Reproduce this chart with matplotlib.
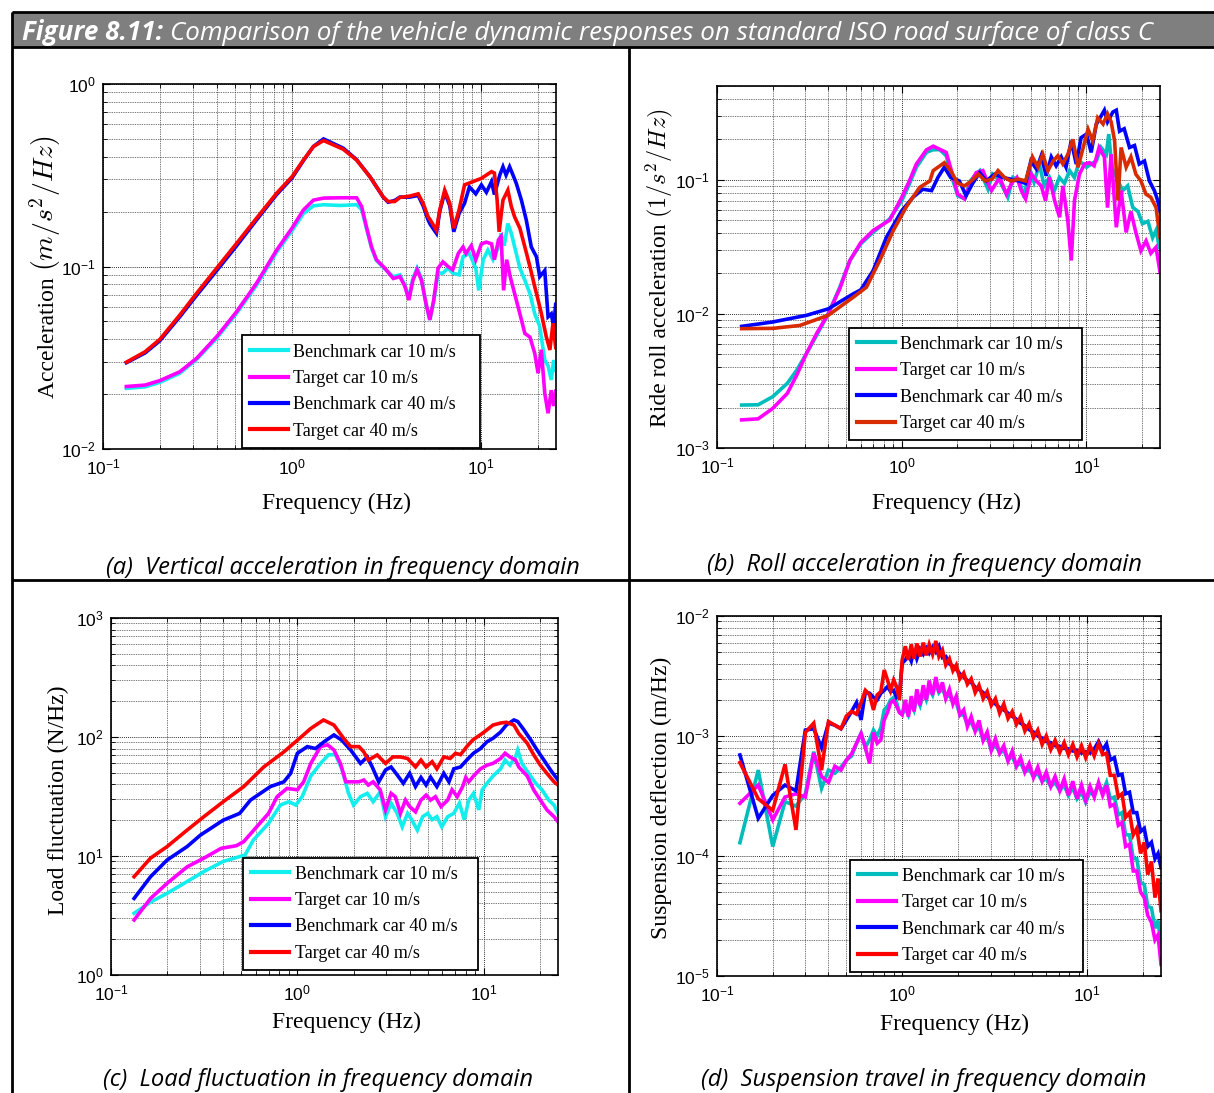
import numpy as np
import matplotlib
matplotlib.use("Agg")
import matplotlib.pyplot as plt
from matplotlib.ticker import LogLocator, NullFormatter
from matplotlib.patches import Rectangle
from matplotlib.lines import Line2D

# ---------------------------------------------------------------- data
LABELS = ["Benchmark car 10 m/s", "Target car 10 m/s",
          "Benchmark car 40 m/s", "Target car 40 m/s"]

# (a) vertical acceleration PSD
fa_bm10 = [0.133, 0.167, 0.2, 0.255, 0.313, 0.4, 0.51, 0.65, 0.83, 1.0, 1.15, 1.3, 1.47, 1.8, 2.2, 2.34, 2.48, 2.64,
           2.8, 3.1, 3.44, 3.73, 3.96, 4.16, 4.37, 4.6, 4.85, 5.12, 5.37, 5.63, 5.94, 6.3, 6.7, 7.1, 7.67, 8.05, 8.7,
           9.4, 9.75, 10.3, 10.9, 11.6, 12.4, 12.8, 13.3, 13.9, 14.5, 15.1, 16.1, 17.1, 18.2, 19.3, 20.5, 21.8, 22.7,
           23.6, 24.3, 24.9]
va_bm10 = [0.0215, 0.0219, 0.0232, 0.026, 0.031, 0.0405, 0.0555, 0.079, 0.12, 0.157, 0.195, 0.215, 0.218, 0.216,
           0.218, 0.205, 0.162, 0.126, 0.108, 0.097, 0.088, 0.09, 0.079, 0.067, 0.086, 0.098, 0.086, 0.063, 0.051,
           0.064, 0.092, 0.092, 0.098, 0.092, 0.09, 0.113, 0.118, 0.098, 0.074, 0.109, 0.123, 0.109, 0.128, 0.152,
           0.13, 0.172, 0.152, 0.128, 0.098, 0.084, 0.071, 0.055, 0.047, 0.0307, 0.0285, 0.0239, 0.0307, 0.027]
fa_tg10 = [0.133, 0.167, 0.2, 0.255, 0.313, 0.4, 0.51, 0.65, 0.83, 1.0, 1.15, 1.3, 1.47, 1.8, 2.2, 2.34, 2.48, 2.64,
           2.8, 3.1, 3.44, 3.73, 3.96, 4.16, 4.37, 4.6, 4.85, 5.12, 5.37, 5.63, 5.94, 6.3, 6.7, 7.1, 7.6, 8.05, 8.35,
           8.9, 9.4, 10.07, 10.7, 11.4, 11.8, 12.4, 12.8, 13.2, 13.7, 14.3, 15.1, 16.1, 17.1, 18.2, 19.3, 20.1, 20.9,
           21.8, 22.7, 23.6, 24.3, 24.9]
va_tg10 = [0.022, 0.0224, 0.0237, 0.0265, 0.0314, 0.0413, 0.0566, 0.081, 0.123, 0.162, 0.204, 0.231, 0.237, 0.238,
           0.238, 0.213, 0.165, 0.128, 0.109, 0.098, 0.086, 0.088, 0.078, 0.0655, 0.084, 0.096, 0.084, 0.063, 0.051,
           0.0655, 0.098, 0.106, 0.1, 0.096, 0.118, 0.128, 0.118, 0.13, 0.109, 0.133, 0.136, 0.133, 0.109, 0.14,
           0.146, 0.074, 0.109, 0.088, 0.071, 0.055, 0.043, 0.041, 0.0334, 0.026, 0.035, 0.0202, 0.0157, 0.021,
           0.0172, 0.0207]
fa_bm40 = [0.133, 0.167, 0.2, 0.255, 0.313, 0.4, 0.51, 0.65, 0.83, 1.0, 1.15, 1.3, 1.47, 1.87, 2.2, 2.59, 3.04, 3.23,
           3.5, 3.73, 4.2, 4.66, 4.95, 5.26, 5.4, 5.82, 6.06, 6.44, 6.85, 7.19, 7.67, 8.2, 8.7, 9.4, 10.07, 10.7,
           11.4, 11.8, 12.6, 13.1, 13.6, 14.2, 14.8, 15.4, 16.4, 17.4, 18.5, 19.7, 20.5, 21.8, 22.7, 23.6, 24.3, 24.9]
va_bm40 = [0.0297, 0.0336, 0.0392, 0.053, 0.0695, 0.095, 0.13, 0.18, 0.248, 0.305, 0.38, 0.455, 0.5, 0.445, 0.385,
           0.31, 0.24, 0.225, 0.23, 0.24, 0.24, 0.245, 0.215, 0.18, 0.17, 0.152, 0.2, 0.255, 0.215, 0.155, 0.195,
           0.222, 0.273, 0.25, 0.28, 0.255, 0.292, 0.248, 0.317, 0.352, 0.317, 0.352, 0.317, 0.286, 0.231, 0.18,
           0.128, 0.113, 0.088, 0.095, 0.053, 0.055, 0.0468, 0.062]
fa_tg40 = [0.133, 0.167, 0.2, 0.255, 0.313, 0.4, 0.51, 0.65, 0.83, 1.0, 1.15, 1.3, 1.47, 1.87, 2.2, 2.59, 3.04, 3.23,
           3.5, 3.73, 4.2, 4.66, 4.95, 5.26, 5.4, 5.82, 6.06, 6.44, 6.85, 7.19, 7.67, 8.2, 9.1, 10.07, 10.7, 11.4,
           11.8, 12.2, 12.5, 13.1, 13.9, 14.5, 15.1, 16.1, 17.1, 18.2, 19.3, 20.1, 20.9, 22.2, 23.2, 24.1, 24.9]
va_tg40 = [0.0299, 0.0341, 0.0399, 0.0542, 0.0713, 0.098, 0.134, 0.184, 0.252, 0.31, 0.383, 0.454, 0.49, 0.439,
           0.383, 0.31, 0.241, 0.227, 0.227, 0.239, 0.243, 0.25, 0.222, 0.187, 0.18, 0.158, 0.204, 0.262, 0.222,
           0.162, 0.204, 0.28, 0.292, 0.304, 0.317, 0.331, 0.325, 0.231, 0.155, 0.231, 0.262, 0.213, 0.187, 0.162,
           0.128, 0.0997, 0.0775, 0.0655, 0.0554, 0.0413, 0.0349, 0.0489, 0.036]

# (b) roll acceleration PSD
fb_bm10 = [0.136, 0.167, 0.2, 0.24, 0.27, 0.305, 0.346, 0.4, 0.462, 0.524, 0.6, 0.7, 0.86, 1.0, 1.1, 1.2, 1.36, 1.47,
           1.6, 1.74, 1.87, 2.01, 2.19, 2.35, 2.48, 2.65, 2.8, 2.93, 3.1, 3.39, 3.6, 3.75, 4.0, 4.34, 4.6, 4.9, 5.2,
           5.56, 5.9, 6.3, 6.7, 7.13, 7.6, 8.1, 8.6, 9.16, 10.0, 10.6, 11.3, 12.0, 12.8, 13.2, 13.7, 14.8, 15.7,
           16.7, 17.8, 19.0, 20.1, 21.5, 22.8, 23.8, 24.8]
vb_bm10 = [0.00209, 0.0021, 0.00241, 0.00303, 0.0038, 0.00506, 0.00692, 0.01, 0.0158, 0.025, 0.0333, 0.0406, 0.051,
           0.0698, 0.093, 0.124, 0.16, 0.167, 0.168, 0.151, 0.104, 0.076, 0.072, 0.098, 0.107, 0.117, 0.098, 0.085,
           0.11, 0.098, 0.083, 0.074, 0.104, 0.098, 0.074, 0.124, 0.096, 0.131, 0.09, 0.104, 0.083, 0.104, 0.094,
           0.117, 0.104, 0.138, 0.124, 0.131, 0.138, 0.174, 0.155, 0.219, 0.124, 0.098, 0.083, 0.09, 0.0622, 0.058,
           0.047, 0.049, 0.037, 0.042, 0.0314]
fb_tg10 = [0.136, 0.167, 0.2, 0.24, 0.27, 0.305, 0.346, 0.4, 0.462, 0.524, 0.6, 0.7, 0.86, 1.0, 1.1, 1.2, 1.36, 1.48,
           1.74, 1.87, 2.01, 2.19, 2.35, 2.53, 2.75, 2.93, 3.06, 3.39, 3.69, 3.93, 4.2, 4.44, 4.68, 5.03, 5.36, 5.69,
           6.0, 6.3, 6.72, 7.15, 7.45, 7.93, 8.27, 8.61, 9.16, 9.76, 10.4, 11.0, 11.7, 12.5, 13.0, 13.6, 14.5, 15.4,
           16.4, 17.4, 18.5, 19.7, 21.0, 22.3, 23.8, 25.0]
vb_tg10 = [0.00162, 0.00165, 0.00197, 0.00255, 0.00349, 0.00506, 0.00713, 0.01, 0.0154, 0.025, 0.034, 0.0418, 0.05,
           0.074, 0.098, 0.131, 0.167, 0.178, 0.16, 0.113, 0.078, 0.072, 0.094, 0.113, 0.117, 0.094, 0.083, 0.104,
           0.078, 0.094, 0.104, 0.083, 0.072, 0.11, 0.098, 0.09, 0.0698, 0.104, 0.07, 0.0525, 0.09, 0.049, 0.025,
           0.07, 0.11, 0.131, 0.134, 0.127, 0.174, 0.148, 0.062, 0.155, 0.0442, 0.083, 0.0405, 0.058, 0.0405,
           0.0296, 0.035, 0.0283, 0.0314, 0.0205]
fb_bm40 = [0.136, 0.2, 0.305, 0.4, 0.546, 0.6, 0.7, 0.826, 1.0, 1.15, 1.3, 1.45, 1.57, 1.7, 1.84, 2.05, 2.23, 2.42,
           2.64, 2.87, 3.18, 3.52, 3.89, 4.3, 4.68, 5.0, 5.36, 5.69, 6.05, 6.45, 6.85, 7.3, 7.75, 8.27, 8.8, 9.35,
           10.0, 10.6, 11.3, 12.0, 12.5, 13.0, 13.9, 14.5, 15.1, 16.0, 17.1, 18.2, 19.3, 20.6, 21.9, 23.3, 24.3, 25.0]
vb_bm40 = [0.00807, 0.0087, 0.00975, 0.0109, 0.0141, 0.0151, 0.021, 0.0372, 0.0588, 0.074, 0.085, 0.083, 0.104,
           0.124, 0.104, 0.098, 0.076, 0.094, 0.113, 0.098, 0.11, 0.104, 0.101, 0.098, 0.094, 0.138, 0.12, 0.151,
           0.107, 0.148, 0.127, 0.148, 0.124, 0.195, 0.131, 0.206, 0.219, 0.16, 0.259, 0.299, 0.33, 0.27, 0.32,
           0.33, 0.23, 0.24, 0.174, 0.18, 0.131, 0.138, 0.098, 0.083, 0.07, 0.058]
fb_tg40 = [0.136, 0.201, 0.281, 0.4, 0.546, 0.644, 0.76, 0.9, 1.06, 1.25, 1.42, 1.48, 1.7, 1.84, 2.01, 2.19, 2.38,
           2.6, 2.83, 3.08, 3.32, 3.6, 3.89, 4.3, 4.68, 5.1, 5.46, 5.8, 6.18, 6.6, 7.0, 7.45, 7.93, 8.44, 9.0, 9.6,
           10.2, 10.8, 11.5, 12.3, 13.0, 13.6, 14.2, 14.8, 15.4, 16.4, 17.4, 18.5, 19.7, 21.0, 22.3, 23.8, 25.0]
vb_tg40 = [0.00776, 0.0078, 0.0082, 0.00975, 0.0133, 0.0158, 0.025, 0.0418, 0.063, 0.0877, 0.098, 0.117, 0.134,
           0.117, 0.094, 0.09, 0.098, 0.11, 0.098, 0.101, 0.117, 0.104, 0.098, 0.101, 0.098, 0.148, 0.124, 0.155,
           0.117, 0.138, 0.151, 0.131, 0.155, 0.2, 0.124, 0.174, 0.238, 0.195, 0.29, 0.26, 0.31, 0.27, 0.195, 0.07,
           0.174, 0.124, 0.148, 0.11, 0.098, 0.078, 0.074, 0.062, 0.0372]

# (c) tyre load fluctuation PSD
fc_bm10 = [0.133, 0.163, 0.2, 0.256, 0.315, 0.4, 0.524, 0.58, 0.7, 0.81, 0.9, 0.98, 1.06, 1.18, 1.33, 1.47, 1.6,
           1.73, 1.88, 2.0, 2.18, 2.37, 2.55, 2.78, 2.97, 3.18, 3.43, 3.65, 3.9, 4.1, 4.4, 4.7, 5.0, 5.28, 5.6, 5.95,
           6.4, 6.9, 7.4, 7.85, 8.3, 8.8, 9.4, 9.8, 10.4, 11.2, 12.3, 13.0, 13.8, 14.8, 15.2, 16.0, 17.4, 19.0,
           20.5, 22.3, 23.8, 25.0]
vc_bm10 = [3.3, 4.1, 4.86, 6.1, 7.4, 9.0, 10.2, 13.6, 18.8, 26.8, 28.6, 26.8, 31.5, 47, 60, 71, 71, 54, 33.6, 26.8,
           31.5, 33.6, 28.6, 34.6, 21.4, 27.8, 22.8, 17.6, 22.8, 20.2, 16.5, 21.4, 22.8, 20.2, 21.4, 17.6, 21.4,
           22.8, 27.8, 20.2, 29.5, 33.6, 24.4, 36, 40.8, 47, 54, 64, 58, 68, 77.8, 60, 49.5, 40.8, 36, 29.5, 26.8,
           22.8]
fc_tg10 = [0.133, 0.163, 0.2, 0.256, 0.315, 0.39, 0.47, 0.515, 0.605, 0.7, 0.778, 0.88, 1.0, 1.08, 1.18, 1.33, 1.45,
           1.57, 1.7, 1.82, 1.97, 2.14, 2.27, 2.4, 2.55, 2.78, 2.97, 3.18, 3.35, 3.57, 3.8, 4.0, 4.3, 4.6, 4.9, 5.18,
           5.5, 5.9, 6.4, 6.75, 7.2, 7.7, 8.0, 8.3, 8.8, 9.6, 10.4, 11.2, 12.3, 13.0, 13.8, 14.8, 15.4, 17.1, 18.5,
           20.1, 21.8, 23.8, 25.0]
vc_tg10 = [2.9, 4.4, 5.9, 8.1, 9.6, 11.6, 12.2, 13.2, 17.6, 22.8, 31.5, 37, 36, 42, 60, 83, 86, 77.8, 60, 42, 42, 42,
           43.5, 39.5, 42, 36, 24.4, 33.6, 31.5, 22.8, 29.5, 26, 23.5, 29.5, 32.5, 29.5, 31.5, 26, 29.5, 36, 31.5,
           38.3, 45.7, 42, 47, 54, 58, 60, 66, 73, 68, 64, 56, 47, 36, 29.5, 24.4, 21.4, 19.4]
fc_bm40 = [0.133, 0.163, 0.2, 0.256, 0.302, 0.4, 0.49, 0.56, 0.716, 0.846, 0.92, 1.0, 1.13, 1.25, 1.4, 1.57, 1.73,
           1.93, 2.18, 2.37, 2.52, 2.73, 2.97, 3.18, 3.43, 3.7, 4.0, 4.3, 4.6, 4.9, 5.18, 5.6, 6.1, 6.5, 6.9, 7.5,
           8.1, 8.8, 9.6, 10.4, 11.2, 12.3, 13.2, 14.5, 15.2, 16.4, 17.9, 19.3, 21.0, 22.8, 25.0]
vc_bm40 = [4.4, 6.7, 9.25, 12, 15, 20, 22.8, 29.5, 38.3, 42, 49.5, 73, 83, 80, 92, 104, 94, 77.8, 60, 68, 56, 42,
           52.8, 56, 48, 40.8, 49.5, 38.3, 45.7, 39.5, 46, 38.3, 49.5, 42, 54, 56, 64, 73, 80, 91.3, 97.5, 110, 126,
           139, 135, 115, 94, 77.8, 64, 52.8, 43.5]
fc_tg40 = [0.133, 0.163, 0.2, 0.256, 0.315, 0.4, 0.515, 0.66, 0.846, 1.0, 1.18, 1.38, 1.57, 1.77, 1.93, 2.14, 2.27,
           2.4, 2.68, 2.97, 3.25, 3.57, 3.9, 4.3, 4.6, 4.9, 5.28, 5.6, 6.1, 6.6, 7.05, 7.5, 8.1, 8.7, 9.2, 9.8, 10.4,
           11.2, 12.3, 13.2, 14.5, 15.4, 17.1, 18.5, 20.1, 21.8, 23.8, 25.0]
vc_tg40 = [6.7, 9.6, 12, 16.5, 21.4, 28.6, 38.3, 56, 75, 94, 118, 139, 126, 97.5, 83, 83, 75, 64, 70.6, 60, 68, 68,
           66, 56, 64, 56, 62, 54, 68, 66, 73, 71, 83, 94, 100, 107, 115, 126, 131, 133, 126, 107, 88.5, 71, 58,
           49.5, 42, 39.5]

# (d) suspension deflection PSD, shared frequency axis
fd = [0.133, 0.167, 0.2, 0.233, 0.267, 0.3, 0.333, 0.367, 0.4, 0.433, 0.467, 0.5, 0.533, 0.567, 0.6, 0.633, 0.667,
      0.7, 0.733, 0.767, 0.8, 0.833, 0.867, 0.9, 0.933, 0.967, 1.0,
      1.04, 1.08, 1.12, 1.16, 1.2, 1.25, 1.3, 1.35, 1.4, 1.46, 1.52, 1.58, 1.65, 1.72, 1.8, 1.88, 1.96, 2.05,
      2.15, 2.25, 2.36, 2.48, 2.6, 2.74, 2.88, 3.03, 3.19, 3.36, 3.54, 3.73, 3.93, 4.14, 4.36, 4.6, 4.85, 5.12,
      5.4, 5.7, 6.0, 6.35, 6.7, 7.1, 7.5, 7.9, 8.35, 8.8, 9.3, 9.8, 10.35, 10.9, 11.5, 12.1, 12.7, 13.3, 14.0,
      14.7, 15.4, 16.1, 16.9, 17.7, 18.5, 19.4, 20.3, 21.2, 22.2, 23.2, 24.1, 25.0]
vd_bm10 = [1.29e-4, 5.2e-4, 1.2e-4, 2.84e-4, 2.6e-4, 3.3e-4, 7.4e-4, 3.66e-4, 5.2e-4, 4.9e-4, 5.5e-4, 6.3e-4,
           6.8e-4, 8.7e-4, 1.05e-3, 8e-4, 9.3e-4, 1.12e-3, 1.0e-3, 1.17e-3, 1.65e-3, 1.77e-3, 2.0e-3, 2.1e-3,
           1.9e-3, 1.57e-3, 1.52e-3,
           1.7e-3, 1.5e-3, 1.9e-3, 1.65e-3, 2.1e-3, 1.8e-3, 2.3e-3, 2.0e-3, 2.5e-3, 2.2e-3,
           2.8e-3, 2.3e-3, 2.5e-3, 2.1e-3, 2.2e-3, 1.9e-3, 1.9e-3, 1.5e-3, 1.5e-3, 1.25e-3,
           1.3e-3, 1.1e-3, 1.2e-3, 0.92e-3, 1.0e-3, 0.76e-3, 0.86e-3, 0.72e-3, 0.76e-3, 0.63e-3,
           0.68e-3, 0.56e-3, 0.6e-3, 0.5e-3, 0.53e-3, 0.46e-3, 0.49e-3, 0.42e-3, 0.44e-3, 0.38e-3,
           0.41e-3, 0.35e-3, 0.39e-3, 0.32e-3, 0.37e-3, 0.3e-3, 0.34e-3, 0.28e-3, 0.34e-3, 0.32e-3,
           0.4e-3, 0.34e-3, 0.41e-3, 0.3e-3, 0.31e-3, 0.22e-3, 0.23e-3, 0.15e-3, 0.15e-3, 0.095e-3,
           0.095e-3, 0.06e-3, 0.058e-3, 0.038e-3, 0.037e-3, 0.025e-3, 0.029e-3, 0.018e-3]
vd_tg10 = [2.75e-4, 3.9e-4, 2.0e-4, 3.1e-4, 3.3e-4, 3.1e-4, 7.2e-4, 4.6e-4, 4.1e-4, 5.6e-4, 5.2e-4, 6.3e-4,
           7.1e-4, 8.7e-4, 1.05e-3, 8e-4, 5.9e-4, 1.07e-3, 8.7e-4, 9.3e-4, 1.36e-3, 1.57e-3, 1.9e-3, 1.97e-3,
           1.77e-3, 1.57e-3, 1.5e-3,
           2.0e-3, 1.45e-3, 2.15e-3, 1.6e-3, 2.45e-3, 1.8e-3, 2.65e-3, 2.0e-3, 2.9e-3, 2.2e-3,
           3.1e-3, 2.3e-3, 2.8e-3, 2.05e-3, 2.45e-3, 1.85e-3, 2.15e-3, 1.5e-3, 1.65e-3, 1.2e-3,
           1.45e-3, 1.1e-3, 1.35e-3, 0.92e-3, 1.08e-3, 0.76e-3, 0.95e-3, 0.72e-3, 0.83e-3, 0.62e-3,
           0.75e-3, 0.56e-3, 0.66e-3, 0.5e-3, 0.59e-3, 0.45e-3, 0.55e-3, 0.42e-3, 0.5e-3, 0.38e-3,
           0.46e-3, 0.35e-3, 0.44e-3, 0.32e-3, 0.42e-3, 0.3e-3, 0.39e-3, 0.29e-3, 0.38e-3, 0.31e-3,
           0.41e-3, 0.32e-3, 0.39e-3, 0.26e-3, 0.27e-3, 0.18e-3, 0.19e-3, 0.12e-3, 0.125e-3, 0.075e-3,
           0.075e-3, 0.05e-3, 0.045e-3, 0.032e-3, 0.028e-3, 0.02e-3, 0.022e-3, 0.0125e-3]
vd_bm40 = [6.95e-4, 2.06e-4, 3.2e-4, 3.9e-4, 3.5e-4, 1.12e-3, 1.15e-3, 8e-4, 1.28e-3, 1.23e-3, 1.15e-3, 1.36e-3,
           1.6e-3, 1.9e-3, 1.36e-3, 2.34e-3, 2.27e-3, 2.1e-3, 2.0e-3, 2.27e-3, 2.4e-3, 2.58e-3, 2.34e-3, 2.4e-3,
           2.1e-3, 2.2e-3, 4.03e-3,
           4.3e-3, 4.8e-3, 4.2e-3, 5.2e-3, 4.4e-3, 5.3e-3, 4.8e-3, 5.4e-3, 4.9e-3, 5.5e-3,
           5.0e-3, 5.6e-3, 4.5e-3, 4.6e-3, 4.0e-3, 3.8e-3, 3.6e-3, 3.3e-3, 3.1e-3, 2.9e-3,
           2.8e-3, 2.55e-3, 2.45e-3, 2.3e-3, 2.15e-3, 1.95e-3, 1.85e-3, 1.72e-3, 1.65e-3, 1.55e-3,
           1.46e-3, 1.38e-3, 1.28e-3, 1.22e-3, 1.13e-3, 1.08e-3, 1.0e-3, 0.96e-3, 0.9e-3, 0.88e-3,
           0.83e-3, 0.82e-3, 0.79e-3, 0.78e-3, 0.75e-3, 0.76e-3, 0.72e-3, 0.74e-3, 0.72e-3, 0.78e-3,
           0.9e-3, 0.76e-3, 0.86e-3, 0.63e-3, 0.66e-3, 0.47e-3, 0.48e-3, 0.33e-3, 0.34e-3, 0.23e-3,
           0.23e-3, 0.16e-3, 0.17e-3, 0.12e-3, 0.13e-3, 0.095e-3, 0.105e-3, 0.08e-3]
vd_tg40 = [6.0e-4, 3.0e-4, 2.4e-4, 5.8e-4, 1.65e-4, 1.07e-3, 1.28e-3, 5.2e-4, 1.32e-3, 1.23e-3, 1.15e-3, 1.47e-3,
           1.6e-3, 1.52e-3, 1.9e-3, 2.4e-3, 2.2e-3, 1.65e-3, 2.2e-3, 2.34e-3, 3.55e-3, 2.93e-3, 2.4e-3, 2.93e-3,
           2.58e-3, 2.0e-3, 4.3e-3,
           5.6e-3, 4.3e-3, 5.8e-3, 4.4e-3, 5.9e-3, 4.6e-3, 6.0e-3, 4.7e-3, 5.8e-3, 4.8e-3,
           6.2e-3, 4.6e-3, 5.2e-3, 3.9e-3, 4.4e-3, 3.5e-3, 3.9e-3, 3.0e-3, 3.35e-3, 2.7e-3,
           3.0e-3, 2.3e-3, 2.65e-3, 2.05e-3, 2.35e-3, 1.8e-3, 2.05e-3, 1.55e-3, 1.85e-3, 1.4e-3,
           1.6e-3, 1.25e-3, 1.45e-3, 1.1e-3, 1.27e-3, 0.97e-3, 1.12e-3, 0.85e-3, 1.0e-3, 0.77e-3,
           0.92e-3, 0.73e-3, 0.88e-3, 0.7e-3, 0.85e-3, 0.67e-3, 0.83e-3, 0.66e-3, 0.83e-3, 0.68e-3,
           0.86e-3, 0.7e-3, 0.72e-3, 0.47e-3, 0.47e-3, 0.31e-3, 0.33e-3, 0.21e-3, 0.23e-3, 0.15e-3,
           0.17e-3, 0.105e-3, 0.13e-3, 0.07e-3, 0.09e-3, 0.045e-3, 0.065e-3, 0.035e-3]

TITLE_BOLD = "Figure 8.11:"
TITLE_REST = "Comparison of the vehicle dynamic responses on standard ISO road surface of class C"
CAPTIONS = ["(a)  Vertical acceleration in frequency domain",
            "(b)  Roll acceleration in frequency domain",
            "(c)  Load fluctuation in frequency domain",
            "(d)  Suspension travel in frequency domain"]
# y labels: plain part and unit part (the unit is typeset as math)
YLABELS = [("Acceleration ", r"$(m/s^2/Hz)$"),
           ("Ride roll acceleration ", r"$(1/s^2/Hz)$"),
           ("Load fluctuation (N/Hz)", ""),
           ("Suspension deflection (m/Hz)", "")]
XLABEL = "Frequency (Hz)"

# ---------------------------------------------------------------- styling
W, H, DPI = 1214, 1093, 100
SERIF = "Liberation Serif"
SANS = "Liberation Sans"
UI = "Open Sans"
plt.rcParams["mathtext.fontset"] = "cm"

CYAN, TEAL, MAGENTA, BLUE, RED, ORANGE = "#12eeee", "#00bdbd", "#ff00ff", "#0000ff", "#ff0000", "#d82c00"
LW = 2.6

fig = plt.figure(figsize=(W / DPI, H / DPI), dpi=DPI)
fig.patch.set_facecolor("white")


def fx(x):
    return x / W


def fy(y):
    return 1.0 - y / H


def seg(x0, y0, x1, y1, lw=1.6):
    fig.add_artist(Line2D([fx(x0), fx(x1)], [fy(y0), fy(y1)], color="black", lw=lw,
                          transform=fig.transFigure, solid_capstyle="butt"))


# table frame with grey header band
fig.add_artist(Rectangle((fx(12), fy(47)), fx(1214) - fx(12), fy(12) - fy(47),
                         transform=fig.transFigure, facecolor="#7f7f7f", edgecolor="none"))
seg(12, 12, 1214, 12, 2.0)
seg(12, 47, 1214, 47, 2.0)
seg(12, 12, 12, 1093, 2.0)
seg(629, 47, 629, 1093, 2.0)
seg(12, 580, 1214, 580, 2.0)

renderer = fig.canvas.get_renderer()

# header text, scaled to span the band
t1 = fig.text(fx(22), fy(40), TITLE_BOLD, color="white", family=UI, style="italic",
              weight="bold", size=10, va="baseline", ha="left")
t2 = fig.text(fx(22), fy(40), TITLE_REST, color="white", family=UI, style="italic",
              size=10, va="baseline", ha="left")
w10 = t1.get_window_extent(renderer).width + t2.get_window_extent(renderer).width
size_hdr = 10 * 1132 / (w10 + 10 * 0.28 * DPI / 72)
t1.set_size(size_hdr)
t2.set_size(size_hdr)
x2 = 22 + t1.get_window_extent(renderer).width + 0.28 * size_hdr * DPI / 72
t2.set_x(fx(x2))

# panel captions (same size for all, set from the first one)
cap_pos = [(343, 574), (924, 571), (318, 1086), (924, 1086)]
probe = fig.text(0, 0, CAPTIONS[0], family=UI, style="italic", size=10)
size_cap = 10 * 474 / probe.get_window_extent(renderer).width
probe.remove()
for txt, (cx, cy) in zip(CAPTIONS, cap_pos):
    fig.text(fx(cx), fy(cy), txt, family=UI, style="italic", size=size_cap,
             ha="center", va="baseline", color="black")

# axes boxes in pixels: left, top, right, bottom
boxes = [(103, 84, 556, 449), (717, 86, 1160, 448), (111, 618, 558, 975), (717, 616, 1161, 976)]
ylims = [(1e-2, 1.0), (1e-3, 0.5), (1.0, 1e3), (1e-5, 1e-2)]
# baseline x and centre y of the rotated y labels, size of the unit part
ylabel_pos = [(54, 267), (666, 268), (64, 800), (667, 798)]
unit_size = [20, 17.5, 17, 17]
xlabel_pos = [(337, 503), (947, 503), (346, 1022), (955, 1024)]
legend_box = [(0.306, 0.003, 0.526), (0.298, 0.022, 0.526), (0.296, 0.014, 0.525), (0.300, 0.011, 0.524)]

series = [
    [(fa_bm10, va_bm10, CYAN), (fa_tg10, va_tg10, MAGENTA), (fa_bm40, va_bm40, BLUE), (fa_tg40, va_tg40, RED)],
    [(fb_bm10, vb_bm10, TEAL), (fb_tg10, vb_tg10, MAGENTA), (fb_bm40, vb_bm40, BLUE), (fb_tg40, vb_tg40, ORANGE)],
    [(fc_bm10, vc_bm10, CYAN), (fc_tg10, vc_tg10, MAGENTA), (fc_bm40, vc_bm40, BLUE), (fc_tg40, vc_tg40, RED)],
    [(fd, vd_bm10, TEAL), (fd, vd_tg10, MAGENTA), (fd, vd_bm40, BLUE), (fd, vd_tg40, RED)],
]

for i in range(4):
    l, t, r, b = boxes[i]
    ax = fig.add_axes([fx(l), fy(b), (r - l) / W, (b - t) / H])
    for f, v, c in series[i]:
        ax.plot(f, v, color=c, lw=LW, solid_joinstyle="miter")
    ax.set_xscale("log")
    ax.set_yscale("log")
    ax.set_xlim(0.1, 25)
    ax.set_ylim(*ylims[i])
    for axis in (ax.xaxis, ax.yaxis):
        axis.set_major_locator(LogLocator(base=10.0, numticks=12))
        axis.set_minor_locator(LogLocator(base=10.0, subs=np.arange(2, 10) * 1.0, numticks=12))
        axis.set_minor_formatter(NullFormatter())
    ax.set_axisbelow(True)
    ax.grid(True, which="major", color="#101010", ls=(0, (1, 1.3)), lw=0.65)
    ax.grid(True, which="minor", color="#202020", ls=(0, (1, 1.3)), lw=0.55)
    ax.tick_params(which="both", direction="in", top=True, right=True, color="black")
    ax.tick_params(which="major", length=5, width=0.8, labelsize=12.5, labelfontfamily=SANS)
    ax.tick_params(axis="x", which="major", pad=6)
    ax.tick_params(axis="y", which="major", pad=5)
    ax.tick_params(which="minor", length=3, width=0.6)
    for sp in ax.spines.values():
        sp.set_linewidth(1.2)
        sp.set_color("black")

    x0, y0, wl = legend_box[i]
    leg = ax.legend(LABELS, loc="lower left", bbox_to_anchor=(x0, y0, wl, 0.3), mode="expand",
                    borderaxespad=0, prop={"family": SERIF, "size": 13}, handlelength=2.1,
                    handletextpad=0.3, borderpad=0.45, labelspacing=0.52, frameon=True,
                    fancybox=False, framealpha=1)
    leg.get_frame().set_edgecolor("black")
    leg.get_frame().set_linewidth(1.3)
    for h in leg.get_lines():
        h.set_linewidth(LW + 0.4)

    # rotated y label built from a plain part and a larger unit part
    plain, unit = YLABELS[i]
    bx, cyl = ylabel_pos[i]
    tp = fig.text(0, 0, plain, rotation=90, rotation_mode="anchor", family=SERIF, size=17,
                  ha="left", va="baseline")
    parts = [tp]
    if unit:
        tu = fig.text(0, 0, unit, rotation=90, rotation_mode="anchor", family=SERIF,
                      size=unit_size[i], ha="left", va="baseline")
        parts.append(tu)
    lengths = [p.get_window_extent(renderer).height for p in parts]
    ystart = cyl + sum(lengths) / 2.0
    for p, ln in zip(parts, lengths):
        p.set_position((fx(bx), fy(ystart)))
        ystart -= ln

    xx, xy = xlabel_pos[i]
    fig.text(fx(xx), fy(xy), XLABEL, family=SERIF, size=17, ha="center", va="center")

fig.savefig("out.png", dpi=DPI, facecolor="white")
